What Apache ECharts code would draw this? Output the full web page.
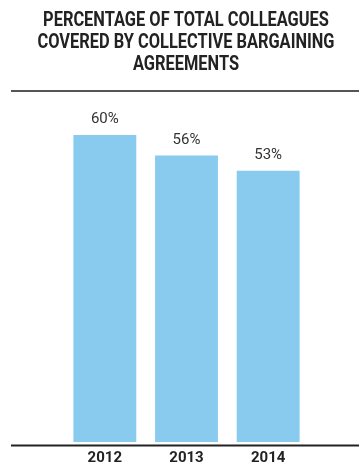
<!DOCTYPE html>
<html><head><meta charset="utf-8">
<script src="https://cdn.jsdelivr.net/npm/echarts@6/dist/echarts.min.js"></script>
<style>html,body{margin:0;padding:0;background:#fff}#c{width:359px;height:466px}</style>
</head><body><div id="c"></div>
<script>
const titleText = "PERCENTAGE OF TOTAL COLLEAGUES\nCOVERED BY COLLECTIVE BARGAINING\nAGREEMENTS";
const categories = ["2012", "2013", "2014"];
const values = [60, 56, 53];
const FONT = "Roboto, 'Liberation Sans', sans-serif";
const chart = echarts.init(document.getElementById('c'));
chart.setOption({
  animation: false,
  grid: { left: 64, right: 50, top: 135, bottom: 21 },
  xAxis: {
    type: 'category', data: categories,
    axisLine: { show: false }, axisTick: { show: false },
    axisLabel: { fontFamily: FONT, fontWeight: 'bold', fontSize: 15, color: '#222', margin: 9 }
  },
  yAxis: { type: 'value', min: 0, max: 60, show: false },
  series: [{
    type: 'bar', data: values, barCategoryGap: '23%',
    itemStyle: { color: '#89CBEE' },
    label: { show: true, position: 'top', distance: 8, formatter: '{c}%',
      fontFamily: FONT, fontSize: 15, color: '#333' }
  }],
  graphic: [
    { type: 'text', x: 186, y: 10, scaleX: 0.82,
      style: { text: titleText, textAlign: 'center', textVerticalAlign: 'top',
        fontFamily: FONT, fontWeight: 'bold', fontSize: 20, lineHeight: 22, fill: '#222' } },
    { type: 'line', shape: { x1: 11, y1: 91, x2: 359, y2: 91 }, style: { stroke: '#555', lineWidth: 2 } },
    { type: 'line', shape: { x1: 11, y1: 445.5, x2: 359, y2: 445.5 }, style: { stroke: '#222', lineWidth: 2 } }
  ]
});
</script></body></html>
